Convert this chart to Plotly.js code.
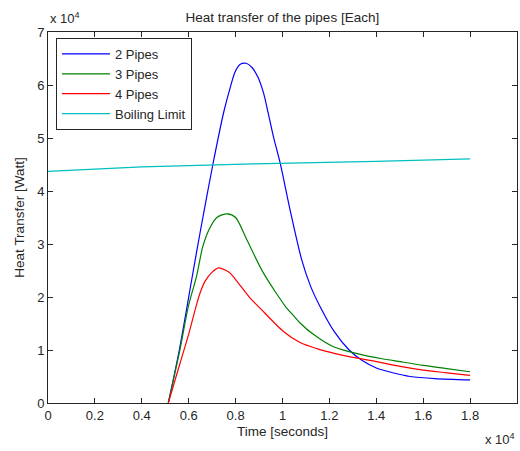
<!DOCTYPE html>
<html>
<head>
<meta charset="utf-8">
<script src="https://cdn.plot.ly/plotly-3.0.1.min.js"></script>
<style>html,body{margin:0;padding:0;background:#fff;}#chart{width:520px;height:451px;}</style>
</head>
<body>
<div id="chart"></div>
<script>
// Time in seconds, heat transfer in watts
const t2 = [5130, 5600, 6130, 6500, 7030, 7500, 7770, 7980, 8200, 8450, 8700, 8950, 9190, 9400, 9610, 9900, 10320, 10820, 11200, 11600, 12200, 12840, 13400, 14000, 14700, 15440, 16500, 18000];
const pipes2 = [0, 10000, 23300, 32500, 45000, 55000, 59500, 62500, 63900, 64100, 63300, 61500, 58500, 54500, 50300, 45300, 36500, 27000, 22000, 18200, 13500, 10000, 8000, 6600, 5700, 5000, 4600, 4350];

const t3 = [5130, 5600, 6000, 6340, 6600, 6900, 7200, 7650, 8000, 8480, 9190, 10180, 10470, 10750, 11300, 12170, 12840, 13500, 14200, 15020, 16000, 17000, 18000];
const pipes3 = [0, 9500, 18500, 24000, 29500, 33000, 35000, 35700, 35000, 30800, 24500, 17900, 16500, 15100, 13000, 10600, 9700, 9000, 8400, 7800, 7100, 6500, 5900];

const t4 = [5130, 5630, 6000, 6300, 6480, 6700, 7000, 7270, 7600, 7770, 8000, 8620, 9040, 10040, 10750, 11500, 12170, 12840, 14000, 15020, 16000, 17000, 18000];
const pipes4 = [0, 7500, 13000, 18000, 20700, 23000, 24700, 25500, 25000, 24500, 23300, 19800, 17900, 13500, 11400, 10200, 9400, 8750, 7800, 6900, 6200, 5700, 5200];

const tB = [0, 4000, 8750, 14000, 18000];
const boiling = [43700, 44550, 45100, 45600, 46070];

const xTickVals = [0, 2000, 4000, 6000, 8000, 10000, 12000, 14000, 16000, 18000, 20000];
const xTickText = ['0', '0.2', '0.4', '0.6', '0.8', '1', '1.2', '1.4', '1.6', '1.8', '2'];
const yTickVals = [0, 10000, 20000, 30000, 40000, 50000, 60000, 70000];
const yTickText = ['0', '1', '2', '3', '4', '5', '6', '7'];

const FONT = 'Liberation Sans, Arial, sans-serif';
const traces = [
  {x: t2, y: pipes2, name: '2 Pipes', mode: 'lines', line: {color: '#0000ff', width: 1.2, shape: 'spline', smoothing: 0.8}},
  {x: t3, y: pipes3, name: '3 Pipes', mode: 'lines', line: {color: '#008000', width: 1.2, shape: 'spline', smoothing: 0.8}},
  {x: t4, y: pipes4, name: '4 Pipes', mode: 'lines', line: {color: '#ff0000', width: 1.2, shape: 'spline', smoothing: 0.8}},
  {x: tB, y: boiling, name: 'Boiling Limit', mode: 'lines', line: {color: '#00bfbf', width: 1.2, shape: 'spline', smoothing: 0.6}}
];

const axisCommon = {
  showline: true, linecolor: '#262626', linewidth: 1, mirror: 'ticks',
  ticks: 'inside', ticklen: 5, tickcolor: '#262626', showgrid: false, zeroline: false,
  tickfont: {family: FONT, size: 13, color: '#262626'}
};

const layout = {
  width: 520, height: 451,
  margin: {l: 48, r: 3, t: 32, b: 48},
  paper_bgcolor: '#ffffff', plot_bgcolor: '#ffffff',
  font: {family: FONT, size: 13, color: '#262626'},
  title: {text: 'Heat transfer of the pipes [Each]', x: 0.543, xanchor: 'center', y: 0.962, yanchor: 'middle', font: {family: FONT, size: 13.5, color: '#262626'}},
  xaxis: Object.assign({}, axisCommon, {range: [0, 20000], tickvals: xTickVals, ticktext: xTickText,
    title: {text: 'Time [seconds]', font: {family: FONT, size: 13.5, color: '#262626'}, standoff: 4}}),
  yaxis: Object.assign({}, axisCommon, {range: [0, 70000], tickvals: yTickVals, ticktext: yTickText,
    title: {text: 'Heat Transfer [Watt]', font: {family: FONT, size: 13.5, color: '#262626'}, standoff: 9}}),
  showlegend: true,
  legend: {x: 0.017, y: 0.984, xanchor: 'left', yanchor: 'top', bgcolor: '#ffffff',
    bordercolor: '#262626', borderwidth: 1, font: {family: FONT, size: 13, color: '#262626'}, itemwidth: 48},
  annotations: [
    {text: 'x 10<sup>4</sup>', xref: 'paper', yref: 'paper', x: 0, y: 1, xanchor: 'left', yanchor: 'bottom', yshift: 4, showarrow: false, font: {family: FONT, size: 13, color: '#262626'}},
    {text: 'x 10<sup>4</sup>', xref: 'paper', yref: 'paper', x: 1, y: 0, xanchor: 'right', yanchor: 'top', yshift: -26, showarrow: false, font: {family: FONT, size: 13, color: '#262626'}}
  ]
};

Plotly.newPlot('chart', traces, layout, {displayModeBar: false, staticPlot: true});
</script>
</body>
</html>
